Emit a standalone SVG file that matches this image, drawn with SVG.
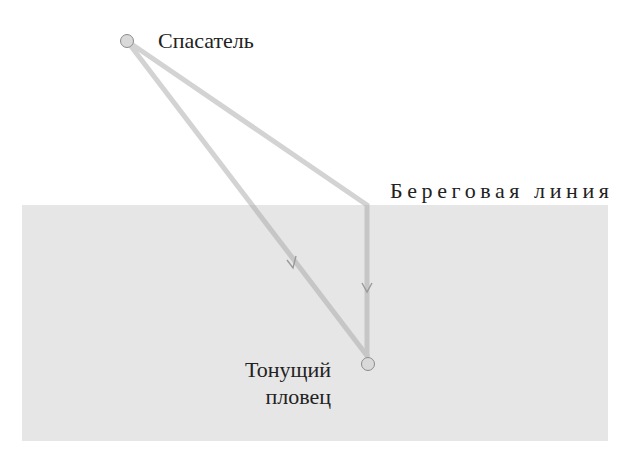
<svg xmlns="http://www.w3.org/2000/svg" width="643" height="461" viewBox="0 0 643 461">
<style>
.path{fill:none;stroke:#a8a8a8;stroke-width:5;stroke-linejoin:miter}
.arr{fill:none;stroke:#9a9a9a;stroke-width:1.4}
.node{fill:#d9d9d9;stroke:#8c8c8c;stroke-width:1}
.lbl{font-family:"Liberation Serif","DejaVu Serif",serif;font-size:22px;fill:#222}
</style>
<rect x="0" y="0" width="643" height="461" fill="#ffffff"/>
<rect id="water" x="22" y="205" width="586" height="236" fill="#e6e6e6"/>
<text id="shore-label" class="lbl" x="390" y="198" font-size="20" letter-spacing="4.6">Береговая линия</text>
<g id="connectors">
  <g opacity="0.5">
    <path class="path" d="M127,41 L367,205 L367,357"/>
    <path class="path" d="M127,41 L368,357"/>
  </g>
  <path class="arr" d="M287,260 L293,268 L296,256"/>
  <path class="arr" d="M362,283 L367,292 L372,283"/>
</g>
<g id="lifeguard">
  <circle class="node" cx="127" cy="41" r="6.5"/>
  <text class="lbl" x="158" y="48">Спасатель</text>
</g>
<g id="swimmer">
  <circle class="node" cx="368" cy="364" r="6.5"/>
  <text class="lbl" x="331" y="377" text-anchor="end">Тонущий</text>
  <text class="lbl" x="331" y="404" text-anchor="end">пловец</text>
</g>
</svg>
